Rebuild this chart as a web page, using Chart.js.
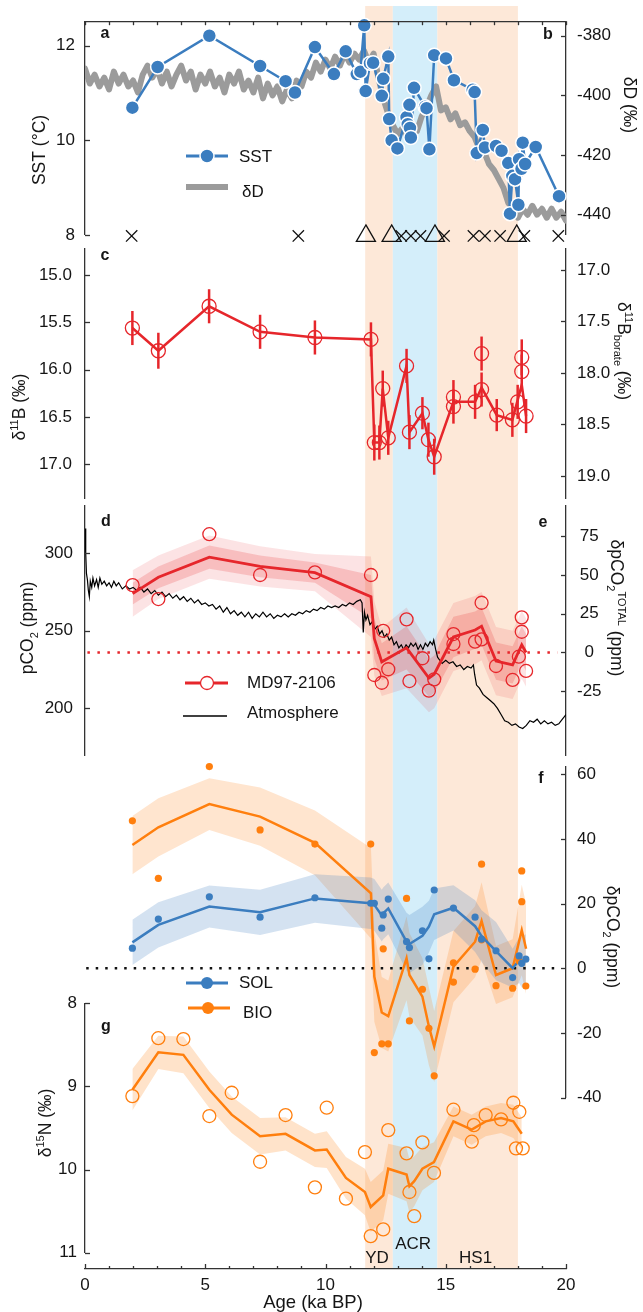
<!DOCTYPE html>
<html lang="en">
<head>
<meta charset="UTF-8">
<title>MD97-2106 deglacial records</title>
<script src="https://cdn.jsdelivr.net/npm/chart.js@4.4.1/dist/chart.umd.min.js"></script>
<style>
  body { margin: 0; background: #fff; }
  #wrap { position: relative; width: 643px; height: 1312px; }
  #wrap canvas { position: absolute; left: 0; top: 0; }
</style>
</head>
<body>
<div id="wrap">
  <canvas id="base" width="643" height="1312"></canvas>
  <canvas id="panelA" width="643" height="1312"></canvas>
  <canvas id="panelC" width="643" height="1312"></canvas>
  <canvas id="panelD" width="643" height="1312"></canvas>
  <canvas id="panelF" width="643" height="1312"></canvas>
  <canvas id="panelG" width="643" height="1312"></canvas>
</div>
<script>
// ---------- age axis ----------
const ageTicks = [0,1,2,3,4,5,6,7,8,9,10,11,12,13,14,15,16,17,18,19,20];
const ageLabels = [0, 5, 10, 15, 20];
const periodNames = ['YD', 'ACR', 'HS1'];
const periodStart = [11.65, 12.8, 14.65];
const periodEnd = [12.8, 14.65, 18.0];

// ---------- a / b : SST and dD ----------
const sstAge = [1.97,3.02,5.17,7.28,8.34,8.73,9.56,10.35,10.84,11.30,11.45,11.61,11.67,11.85,11.98,
  12.34,12.40,12.61,12.65,12.75,12.99,13.37,13.42,13.49,13.51,13.55,13.68,14.14,14.20,14.32,14.52,
  15.01,15.34,16.12,16.20,16.29,16.54,16.63,17.09,17.32,17.60,17.67,17.77,17.88,18.02,18.05,18.15,
  18.20,18.30,18.74,19.71];
const sstVal = [10.69,11.55,12.21,11.57,11.25,11.01,11.97,11.40,11.88,11.40,11.45,12.43,11.04,11.63,11.64,
  10.94,11.30,11.77,10.45,10.00,9.83,10.49,10.34,10.75,10.26,10.06,11.11,10.71,10.68,9.81,11.80,
  11.73,11.27,11.07,11.02,9.73,10.22,9.85,9.88,9.78,9.52,8.45,9.25,9.18,8.64,9.60,9.40,
  9.95,9.50,9.86,8.82];
const dDAge = [0,0.2,0.4,0.6,0.8,1,1.2,1.4,1.6,1.8,2,2.2,2.4,2.6,2.8,3,3.2,3.4,3.6,3.8,
  4,4.2,4.4,4.6,4.8,5,5.2,5.4,5.6,5.8,6,6.2,6.4,6.6,6.8,7,7.2,7.4,7.6,7.8,
  8,8.2,8.4,8.6,8.8,9,9.2,9.4,9.6,9.8,10,10.2,10.4,10.6,10.8,11,11.2,11.4,11.6,11.8,
  12,12.2,12.4,12.6,12.8,13,13.2,13.4,13.6,13.8,14,14.2,14.4,14.6,14.8,15,15.2,15.4,15.6,15.8,
  16,16.2,16.4,16.6,16.8,17,17.2,17.4,17.6,17.8,18,18.2,18.4,18.6,18.8,19,19.2,19.4,19.6,19.8,20];
const dDVal = [-391,-396,-393,-397,-394,-398,-392,-396,-393,-397,-395,-399,-393,-390,-394,-391,-396,-392,-397,-393,
  -390,-395,-392,-398,-393,-396,-392,-397,-394,-399,-393,-396,-392,-398,-395,-399,-394,-401,-396,-400,
  -397,-402,-398,-401,-395,-397,-392,-394,-389,-392,-388,-391,-387,-390,-386,-389,-386,-388,-385,-389,
  -386,-394,-401,-406,-410,-413,-411,-414,-410,-412,-407,-404,-400,-397,-405,-404,-408,-406,-410,-409,
  -412,-414,-418,-419,-423,-425,-428,-431,-436,-438,-441,-438,-440,-437,-440,-438,-441,-438,-441,-439,-442];
const c14Age = [1.94,8.87,13.15,13.55,13.95,14.93,16.15,16.63,17.26,18.27,19.68];
const tephraAge = [11.68,12.75,14.55,17.95];
const ageMarkLevel = 7.98;
const sstTicks = [8, 10, 12];
const dDTicks = [-380, -400, -420, -440];

// ---------- c : d11B ----------
const bAge = [1.97,3.05,5.16,7.28,9.56,11.89,12.03,12.24,12.38,12.61,13.37,13.49,14.03,14.28,14.52,
  15.32,15.32,16.22,16.49,16.49,17.12,17.77,17.99,18.16,18.16,18.34];
const bVal = [15.56,15.80,15.33,15.60,15.66,15.68,16.77,16.77,16.20,16.72,15.96,16.66,16.46,16.74,16.92,
  16.29,16.39,16.34,15.83,16.21,16.48,16.53,16.34,15.87,16.02,16.49];
const bErr = [0.18,0.19,0.18,0.18,0.18,0.18,0.19,0.18,0.19,0.18,0.18,0.18,0.17,0.18,0.19,
  0.18,0.18,0.18,0.18,0.18,0.17,0.18,0.18,0.19,0.18,0.18];
const bLineAge = [1.97,3.05,5.16,7.28,9.56,11.89,12.03,12.24,12.38,12.61,13.37,13.49,14.03,14.28,14.52,
  15.32,16.22,16.49,17.12,17.77,18.16,18.34];
const bLineVal = [15.56,15.80,15.33,15.60,15.66,15.68,16.77,16.77,16.20,16.72,15.96,16.66,16.46,16.74,16.92,
  16.34,16.34,16.19,16.48,16.53,16.16,16.49];
const bTicks = [15.0, 15.5, 16.0, 16.5, 17.0];
const bBorateTicks = [17.0, 17.5, 18.0, 18.5, 19.0];

// ---------- d / e : pCO2 ----------
const pco2Age = [1.98,3.05,5.17,7.28,9.56,11.89,12.03,12.34,12.40,12.61,13.37,13.49,14.03,14.30,14.52,
  15.32,15.32,16.22,16.49,16.49,17.09,17.78,18.04,18.16,18.16,18.34];
const pco2Val = [279.5,270.5,312.3,286,287.7,286,221.5,216.5,250,225.2,257.4,217.6,232.3,211.4,218.7,
  247.9,241.5,243,268.1,244.5,227.3,218.3,233.3,258.7,249.4,224.1];
const pco2LineAge = [1.98,3.05,5.17,7.28,9.56,11.89,12.03,12.34,13.37,14.30,14.52,15.32,16.22,16.49,17.09,17.78,18.16,18.34];
const pco2LineVal = [274,284.5,297.5,291.5,287.5,272,245,230,239,219.5,222,246,250.5,253,230.5,228,241,236];
const pco2Sigma1 = [7,7,7.5,7,6.5,14,13,12,14,12,12,13,12,12,12,12,12,12];
const pco2Sigma2 = [15,14,14,13,12,26,24,22,26,22,22,22,22,22,22,22,22,22];
const atmAge = [0.00,0.03,0.06,0.10,0.14,0.18,0.22,0.28,0.33,0.40,
  0.48,0.55,0.62,0.70,0.80,0.90,1.00,1.10,1.20,1.30,
  1.40,1.55,1.70,1.85,2.00,2.15,2.30,2.45,2.60,2.75,
  2.90,3.05,3.20,3.35,3.50,3.65,3.80,3.95,4.10,4.25,
  4.40,4.55,4.70,4.85,5.00,5.15,5.30,5.45,5.60,5.75,
  5.90,6.05,6.20,6.35,6.50,6.65,6.80,6.95,7.10,7.25,
  7.40,7.55,7.70,7.85,8.00,8.15,8.30,8.45,8.60,8.75,
  8.90,9.05,9.20,9.35,9.50,9.65,9.80,9.95,10.10,10.25,
  10.40,10.55,10.70,10.85,11.00,11.15,11.30,11.45,11.52,11.57,
  11.62,11.68,11.75,11.85,11.95,12.05,12.15,12.25,12.35,12.45,
  12.55,12.65,12.75,12.85,12.95,13.05,13.15,13.25,13.35,13.45,
  13.55,13.65,13.75,13.85,13.95,14.05,14.15,14.25,14.35,14.45,
  14.50,14.58,14.66,14.75,14.85,15.00,15.15,15.30,15.45,15.60,
  15.75,15.90,16.05,16.15,16.20,16.28,16.40,16.55,16.70,16.85,
  17.00,17.15,17.30,17.45,17.60,17.75,17.90,18.05,18.20,18.35,
  18.50,18.65,18.80,18.95,19.10,19.25,19.40,19.55,19.70,19.85,
  20.00];
const atmVal = [316,300,287,283,276,272,282,278,284,279,
  283,278,284,280,282,279,281,278,282,279,
  281,277,279,277,278,276,278,275,277,274,
  276,273,275,272,274,271,273,270,272,269,
  271,268,270,267,268,266,267,264,266,262,
  265,261,263,260,262,259,262,258,261,259,
  262,259,261,258,260,259,261,259,261,260,
  262,261,263,262,264,263,265,264,266,265,
  266,265,267,266,268,267,269,270,268,249,
  262,257,260,254,256,251,253,248,250,246,
  248,244,246,241,243,239,241,238,241,239,
  242,240,242,238,241,238,242,240,243,241,
  244,238,233,231,229,231,229,230,227,228,
  225,227,226,228,222,215,213,209,207,205,
  203,200,196,192,191,189,190,188,187,189,
  192,191,193,190,192,190,191,189,190,193,
  196];
const totZeroAge = [0.1, 19.65];
const totZeroVal = [0, 0];
const pco2Ticks = [200, 250, 300];
const dTotalTicks = [-25, 0, 25, 50, 75];

// ---------- f : SOL / BIO ----------
const solAge = [1.97,3.05,5.17,7.28,9.56,11.88,12.03,12.34,12.40,12.61,13.37,13.49,14.03,14.30,14.52,
  15.32,16.22,16.49,17.09,17.78,18.05,18.16,18.33];
const solVal = [6.2,15.2,22.1,15.8,21.8,20.1,20.1,12.4,16.5,21.4,8.2,6.4,11.6,2.9,24.2,
  18.6,15.8,9.0,5.4,-2.9,3.8,1.5,2.8];
const solLineAge = [1.97,3.05,5.17,7.28,9.56,11.88,12.03,12.34,12.40,12.61,13.37,13.49,14.03,14.30,14.52,
  15.32,16.22,16.49,17.09,17.78,18.05,18.16,18.33];
const solLineVal = [8.0,13.4,19.1,17.3,21.6,20.1,19.6,16.3,17.0,18.5,8.2,7.5,10.0,12.9,16.7,
  18.7,13.0,9.9,5.3,0.0,2.4,2.0,2.5];
const solSigma = [7,7,6.5,7,7.5,8,8,8,8,8,9,9,9,8,8,7,8,8,9,6,7,8,8];
const bioAge = [1.97,3.05,5.17,7.28,9.56,11.88,12.03,12.34,12.40,12.61,13.37,13.49,14.03,14.30,14.52,
  15.32,15.32,16.22,16.49,16.49,17.09,17.78,18.05,18.16,18.16,18.33];
const bioVal = [45.6,27.8,62.4,42.8,38.4,38.4,-26.1,-23.4,6.0,-23.4,21.6,-16.3,-6.5,-18.6,-33.3,
  1.7,-4.3,-0.3,32.2,8.8,-5.4,-6.2,2.3,30.1,20.6,-5.5];
const bioLineAge = [1.97,3.05,5.17,7.28,9.56,11.89,12.03,12.34,12.61,13.37,13.49,14.03,14.30,14.52,
  15.32,16.22,16.49,17.09,17.78,18.16,18.34];
const bioLineVal = [38.1,43.6,50.8,46.9,38.8,23.2,-2.6,-13.7,-14.8,3.1,-2.1,-8.8,-18.0,-24.2,
  0.5,8.2,14.6,-2.1,0.0,11.8,6.0];
const bioSigma = [9,9,8,9,10,14,14,11,11,13,13,12,12,11,11,11,12,9,9,14,14];
const fZeroAge = [0.05, 19.7];
const fZeroVal = [0, 0];
const dpTicks = [-40, -20, 0, 20, 40, 60];

// ---------- g : d15N ----------
const nAge = [1.97,3.05,4.09,5.17,6.10,7.28,8.34,9.56,10.05,10.85,11.64,11.88,12.40,12.61,13.37,13.49,13.69,
  14.03,14.51,15.32,16.08,16.17,16.66,17.30,17.81,18.06,17.92,18.20];
const nVal = [9.116,8.42,8.43,9.356,9.076,9.906,9.344,10.214,9.256,10.35,9.79,10.80,10.72,9.525,9.805,10.27,10.56,
  9.673,10.04,9.28,9.665,9.465,9.344,9.396,9.196,9.305,9.745,9.745];
const nLineAge = [1.97,3.05,4.09,5.17,6.10,7.28,8.34,9.56,10.05,10.85,11.64,11.88,12.40,12.61,13.37,13.49,13.69,
  14.03,14.51,15.32,16.08,16.66,17.30,17.81,18.16];
const nLineVal = [9.04,8.59,8.62,9.04,9.34,9.60,9.57,9.77,9.76,10.10,10.27,10.45,10.31,9.99,10.06,10.20,10.14,
  9.99,9.91,9.42,9.52,9.42,9.38,9.42,9.57];
const nSigma = [0.25,0.2,0.22,0.22,0.22,0.22,0.2,0.2,0.22,0.25,0.28,0.3,0.3,0.3,0.32,0.32,0.3,
  0.26,0.24,0.18,0.18,0.18,0.18,0.2,0.2];
const nTicks = [8, 9, 10, 11];

// ---------- look ----------
const W = 643, H = 1312, LEFT = 85, RIGHT = 566;
const FONT = '"Liberation Sans", Arial, sans-serif';
const AXIS = '#333', TXT = '#151515';
const BLUE = '#3b7dbf', GREY = '#9b9b9b', RED = '#e6262b', ORANGE = '#ff7f0e';
const STADIAL = '#fde8d8', ACR = '#d4eefa';

Chart.defaults.font.family = FONT;
Chart.defaults.color = TXT;
Chart.defaults.animation = false;
Chart.defaults.responsive = false;
Chart.defaults.events = [];
Chart.defaults.plugins.legend.display = false;
Chart.defaults.plugins.tooltip.enabled = false;

const pts = (xs, ys) => xs.map((x, i) => ({x, y: ys[i]}));

function band(xs, mid, hw, color, axis, order) {
  const common = {yAxisID: axis, borderWidth: 0, borderColor: 'rgba(0,0,0,0)', pointRadius: 0, backgroundColor: color, order};
  return [
    Object.assign({data: xs.map((x, i) => ({x, y: mid[i] + hw[i]})), fill: '+1'}, common),
    Object.assign({data: xs.map((x, i) => ({x, y: mid[i] - hw[i]})), fill: false}, common)
  ];
}

function yScale(position, min, max, ticks, opt) {
  opt = opt || {};
  return {
    type: 'linear', position, min, max, reverse: !!opt.reverse,
    afterFit: s => { s.width = position === 'left' ? LEFT : W - RIGHT; },
    afterBuildTicks: s => { s.ticks = ticks.map(v => ({value: v})); },
    grid: {display: false, drawTicks: false},
    border: {display: true, color: AXIS, width: 1.3},
    ticks: {padding: opt.pad || 10, crossAlign: opt.cross || 'near', color: TXT, font: {size: 17},
      callback: v => opt.fmt ? opt.fmt(v) : String(v)}
  };
}

// ticks drawn inward from the axis line
const inTicks = {
  id: 'inTicks',
  afterDraw(chart) {
    const ctx = chart.ctx;
    ctx.save();
    ctx.strokeStyle = AXIS;
    ctx.lineWidth = 1.3;
    Object.values(chart.scales).forEach(s => {
      if (s.axis !== 'y' || !s.options.display) return;
      const x0 = s.position === 'left' ? s.right : s.left;
      const dir = s.position === 'left' ? 1 : -1;
      s.ticks.forEach(t => {
        const y = Math.round(s.getPixelForValue(t.value)) + 0.5;
        ctx.beginPath(); ctx.moveTo(x0, y); ctx.lineTo(x0 + dir * 5, y); ctx.stroke();
      });
    });
    ctx.restore();
  }
};

function richText(ctx, parts, x, y, rot, size) {
  const small = Math.round(size * 0.62);
  const fontOf = k => (k ? small : size) + 'px ' + FONT;
  ctx.save();
  ctx.translate(x, y);
  ctx.rotate(rot * Math.PI / 180);
  let w = 0;
  parts.forEach(([t, k]) => { ctx.font = fontOf(k); w += ctx.measureText(t).width; });
  let cx = -w / 2;
  ctx.fillStyle = TXT;
  ctx.textAlign = 'left';
  ctx.textBaseline = 'alphabetic';
  parts.forEach(([t, k]) => {
    ctx.font = fontOf(k);
    const dy = k === 'sub' ? size * 0.24 : k === 'sup' ? -size * 0.42 : 0;
    ctx.fillText(t, cx, size * 0.36 + dy);
    cx += ctx.measureText(t).width;
  });
  ctx.restore();
}

function keyLine(ctx, x0, x1, y, color, width) {
  ctx.strokeStyle = color; ctx.lineWidth = width; ctx.lineCap = 'butt';
  ctx.beginPath(); ctx.moveTo(x0, y); ctx.lineTo(x1, y); ctx.stroke();
}
function keyDot(ctx, x, y, r, fill, stroke, lw) {
  ctx.beginPath(); ctx.arc(x, y, r, 0, Math.PI * 2);
  if (fill) { ctx.fillStyle = fill; ctx.fill(); }
  if (stroke) { ctx.strokeStyle = stroke; ctx.lineWidth = lw; ctx.stroke(); }
}
function keyText(ctx, t, x, y) {
  ctx.fillStyle = TXT; ctx.font = '17px ' + FONT;
  ctx.textAlign = 'left'; ctx.textBaseline = 'middle';
  ctx.fillText(t, x, y);
}

const axisTitles = [
  {parts: [['SST (°C)', '']], x: 39, y: 150, rot: -90},
  {parts: [['δD (‰)', '']], x: 630, y: 105, rot: 90},
  {parts: [['δ', ''], ['11', 'sup'], ['B (‰)', '']], x: 19, y: 407, rot: -90},
  {parts: [['δ', ''], ['11', 'sup'], ['B', ''], ['borate', 'sub'], [' (‰)', '']], x: 624, y: 351, rot: 90},
  {parts: [['pCO', ''], ['2', 'sub'], [' (ppm)', '']], x: 27, y: 628, rot: -90},
  {parts: [['δpCO', ''], ['2', 'sub'], ['TOTAL', 'sup'], [' (ppm)', '']], x: 617, y: 608, rot: 90},
  {parts: [['δpCO', ''], ['2', 'sub'], [' (ppm)', '']], x: 613, y: 937, rot: 90},
  {parts: [['δ', ''], ['15', 'sup'], ['N (‰)', '']], x: 45, y: 1123, rot: -90}
];
const panelLetters = [['a', 105, 34], ['b', 548, 35], ['c', 105, 256], ['d', 106, 522],
  ['e', 543, 523], ['f', 541, 779], ['g', 106, 1027]];
const periodLabelY = [1258, 1244, 1258];

// ---------- base chart: time axis, period shading, titles ----------
new Chart(document.getElementById('base'), {
  type: 'line',
  data: {datasets: []},
  options: {
    layout: {padding: {top: 6, bottom: 0, left: LEFT, right: W - RIGHT}},
    scales: {
      x: {
        type: 'linear', position: 'bottom', min: 0, max: 20,
        afterFit: s => { s.height = 43; },
        afterBuildTicks: s => { s.ticks = ageTicks.map(v => ({value: v})); },
        grid: {display: false, drawTicks: false},
        border: {display: true, color: AXIS, width: 1.3},
        ticks: {autoSkip: false, maxRotation: 0, padding: 6, color: TXT, font: {size: 17},
          callback: v => ageLabels.includes(v) ? String(v) : ''}
      },
      y: {display: false, min: 0, max: 1}
    }
  },
  plugins: [{
    id: 'periods',
    beforeDraw(chart) {
      const {ctx, chartArea: a, scales: {x}} = chart;
      ctx.save();
      periodNames.forEach((n, i) => {
        const x0 = x.getPixelForValue(periodStart[i]), x1 = x.getPixelForValue(periodEnd[i]);
        ctx.fillStyle = n === 'ACR' ? ACR : STADIAL;
        ctx.fillRect(x0, a.top, x1 - x0, a.bottom - a.top);
      });
      ctx.restore();
    },
    afterDraw(chart) {
      const {ctx, chartArea: a, scales: {x}} = chart;
      ctx.save();
      ctx.strokeStyle = AXIS; ctx.lineWidth = 1.3;
      ageTicks.forEach(v => {
        const px = Math.round(x.getPixelForValue(v)) + 0.5;
        const len = ageLabels.includes(v) ? 5 : 3;
        ctx.beginPath(); ctx.moveTo(px, a.bottom); ctx.lineTo(px, a.bottom - len); ctx.stroke();
      });
      axisTitles.forEach(t => richText(ctx, t.parts, t.x, t.y, t.rot, 17.5));
      richText(ctx, [['Age (ka BP)', '']], 313, 1301, 0, 18.5);
      ctx.fillStyle = TXT; ctx.textAlign = 'center'; ctx.textBaseline = 'middle';
      ctx.font = 'bold 16px ' + FONT;
      panelLetters.forEach(([t, px, py]) => ctx.fillText(t, px, py));
      ctx.font = '17px ' + FONT;
      periodNames.forEach((n, i) => {
        const cx = x.getPixelForValue((periodStart[i] + periodEnd[i]) / 2);
        ctx.fillText(n, cx - 2, periodLabelY[i]);
      });
      ctx.restore();
    }
  }]
});

function panel(id, top, bottom, scales, datasets, plugins, pad) {
  pad = pad || {};
  return new Chart(document.getElementById(id), {
    type: 'line',
    data: {datasets},
    options: {
      layout: {padding: {top, bottom: H - bottom, left: pad.left || 0, right: pad.right || 0}},
      scales: Object.assign({x: {type: 'linear', min: 0, max: 20, display: false}}, scales)
    },
    plugins: [inTicks].concat(plugins || [])
  });
}

// ---------- panel a / b ----------
panel('panelA', 14, 235, {
  y: yScale('left', 8, 12.517, sstTicks),
  y2: yScale('right', -446.8, -375.1, dDTicks, {pad: 11})
}, [
  {data: pts(sstAge, sstVal), yAxisID: 'y', borderColor: BLUE, borderWidth: 2.5, pointRadius: 7,
    pointBackgroundColor: BLUE, pointBorderColor: '#fff', pointBorderWidth: 1.5, order: 1, clip: false},
  {data: pts(dDAge, dDVal), yAxisID: 'y2', borderColor: GREY, borderWidth: 6, pointRadius: 0,
    borderJoinStyle: 'round', borderCapStyle: 'round', order: 5},
  {data: c14Age.map(a => ({x: a, y: ageMarkLevel})), yAxisID: 'y', showLine: false, pointStyle: 'crossRot',
    pointRadius: 8, pointBorderColor: '#111', pointBorderWidth: 1.3, order: 2, clip: false},
  {data: tephraAge.map(a => ({x: a, y: ageMarkLevel})), yAxisID: 'y', showLine: false, pointStyle: 'triangle',
    pointRadius: 11, pointBackgroundColor: 'rgba(0,0,0,0)', pointBorderColor: '#111', pointBorderWidth: 1.3,
    order: 2, clip: false}
], [{
  id: 'frameA',
  afterDraw(chart) {
    const {ctx, chartArea: a, scales: {x}} = chart;
    ctx.save();
    ctx.strokeStyle = AXIS; ctx.lineWidth = 1.3;
    ctx.beginPath(); ctx.moveTo(a.left, a.top + 0.5); ctx.lineTo(a.right, a.top + 0.5); ctx.stroke();
    ageTicks.forEach(v => {
      const px = Math.round(x.getPixelForValue(v)) + 0.5;
      ctx.beginPath(); ctx.moveTo(px, a.top); ctx.lineTo(px, a.top + 4); ctx.stroke();
    });
    keyLine(ctx, 186, 228, 156, BLUE, 3);
    keyDot(ctx, 207, 156, 7, BLUE, '#fff', 1.5);
    keyText(ctx, 'SST', 239, 157);
    keyLine(ctx, 186, 228, 187, GREY, 6);
    keyText(ctx, 'δD', 242, 192);
    ctx.restore();
  }
}]);

// ---------- panel c ----------
panel('panelC', 249, 498, {
  y: yScale('left', 14.725, 17.356, bTicks, {reverse: true, pad: 13, fmt: v => v.toFixed(1)}),
  y2: yScale('right', 16.796, 19.214, bBorateTicks, {reverse: true, pad: 11, fmt: v => v.toFixed(1)})
}, [
  {data: pts(bLineAge, bLineVal), yAxisID: 'y', borderColor: RED, borderWidth: 2.5, pointRadius: 0, order: 3},
  {data: pts(bAge, bVal), yAxisID: 'y', showLine: false, pointRadius: 7, pointBackgroundColor: 'rgba(0,0,0,0)',
    pointBorderColor: RED, pointBorderWidth: 1.3, order: 1, clip: false}
], [{
  id: 'errBars',
  beforeDatasetsDraw(chart) {
    const {ctx, scales: {x, y}} = chart;
    ctx.save();
    ctx.strokeStyle = RED; ctx.lineWidth = 2.5;
    bAge.forEach((a, i) => {
      const px = x.getPixelForValue(a);
      ctx.beginPath();
      ctx.moveTo(px, y.getPixelForValue(bVal[i] - bErr[i]));
      ctx.lineTo(px, y.getPixelForValue(bVal[i] + bErr[i]));
      ctx.stroke();
    });
    ctx.restore();
  }
}]);

// ---------- panel d / e ----------
panel('panelD', 506, 755, {
  y: yScale('left', 169.9, 330.5, pco2Ticks, {pad: 12}),
  y2: yScale('right', -66, 94.3, dTotalTicks, {pad: 11, cross: 'center'})
}, [
  ...band(pco2LineAge, pco2LineVal, pco2Sigma2, 'rgba(230,38,43,0.13)', 'y', 10),
  ...band(pco2LineAge, pco2LineVal, pco2Sigma1, 'rgba(230,38,43,0.2)', 'y', 9),
  {data: pts(totZeroAge, totZeroVal), yAxisID: 'y2', borderColor: RED, borderWidth: 2.5, borderDash: [2.5, 7.5],
    pointRadius: 0, order: 8},
  {data: pts(atmAge, atmVal), yAxisID: 'y', borderColor: '#000', borderWidth: 1.2, pointRadius: 0, order: 6},
  {data: pts(pco2LineAge, pco2LineVal), yAxisID: 'y', borderColor: RED, borderWidth: 2.8, pointRadius: 0, order: 4},
  {data: pts(pco2Age, pco2Val), yAxisID: 'y', showLine: false, pointRadius: 6.5, pointBackgroundColor: 'rgba(0,0,0,0)',
    pointBorderColor: RED, pointBorderWidth: 1.3, order: 1, clip: false}
], [{
  id: 'keyD',
  afterDraw(chart) {
    const ctx = chart.ctx;
    ctx.save();
    keyLine(ctx, 185, 228, 683, RED, 2.8);
    keyDot(ctx, 207, 683, 6.5, '#fff', RED, 1.3);
    keyText(ctx, 'MD97-2106', 247, 683);
    keyLine(ctx, 183, 227, 716, '#000', 1.5);
    keyText(ctx, 'Atmosphere', 247, 713);
    ctx.restore();
  }
}]);

// ---------- panel f ----------
panel('panelF', 767, 1097.5, {
  y2: yScale('right', -40, 62.26, dpTicks, {pad: 11})
}, [
  ...band(bioLineAge, bioLineVal, bioSigma, 'rgba(255,127,14,0.2)', 'y2', 10),
  ...band(solLineAge, solLineVal, solSigma, 'rgba(59,125,191,0.22)', 'y2', 9),
  {data: pts(fZeroAge, fZeroVal), yAxisID: 'y2', borderColor: '#111', borderWidth: 2.5, borderDash: [2.5, 7],
    pointRadius: 0, order: 8},
  {data: pts(bioLineAge, bioLineVal), yAxisID: 'y2', borderColor: ORANGE, borderWidth: 2.5, pointRadius: 0, order: 4},
  {data: pts(solLineAge, solLineVal), yAxisID: 'y2', borderColor: BLUE, borderWidth: 2.5, pointRadius: 0, order: 3},
  {data: pts(bioAge, bioVal), yAxisID: 'y2', showLine: false, pointRadius: 3.6, pointBackgroundColor: ORANGE,
    pointBorderWidth: 0, order: 2, clip: false},
  {data: pts(solAge, solVal), yAxisID: 'y2', showLine: false, pointRadius: 3.6, pointBackgroundColor: BLUE,
    pointBorderWidth: 0, order: 1, clip: false}
], [{
  id: 'keyF',
  afterDraw(chart) {
    const ctx = chart.ctx;
    ctx.save();
    keyLine(ctx, 186, 228, 983, BLUE, 3);
    keyDot(ctx, 207, 983, 6, BLUE);
    keyText(ctx, 'SOL', 239, 983);
    keyLine(ctx, 188, 230, 1008, ORANGE, 3);
    keyDot(ctx, 208, 1008, 6, ORANGE);
    keyText(ctx, 'BIO', 243, 1013);
    ctx.restore();
  }
}], {left: LEFT});

// ---------- panel g ----------
panel('panelG', 1003.3, 1252.7, {
  y: yScale('left', 8, 11, nTicks, {reverse: true, pad: 8})
}, [
  ...band(nLineAge, nLineVal, nSigma, 'rgba(255,127,14,0.22)', 'y', 10),
  {data: pts(nLineAge, nLineVal), yAxisID: 'y', borderColor: ORANGE, borderWidth: 2.5, pointRadius: 0, order: 3},
  {data: pts(nAge, nVal), yAxisID: 'y', showLine: false, pointRadius: 6.5, pointBackgroundColor: 'rgba(0,0,0,0)',
    pointBorderColor: ORANGE, pointBorderWidth: 1.3, order: 1, clip: false}
], [], {right: W - RIGHT});
</script>
</body>
</html>
